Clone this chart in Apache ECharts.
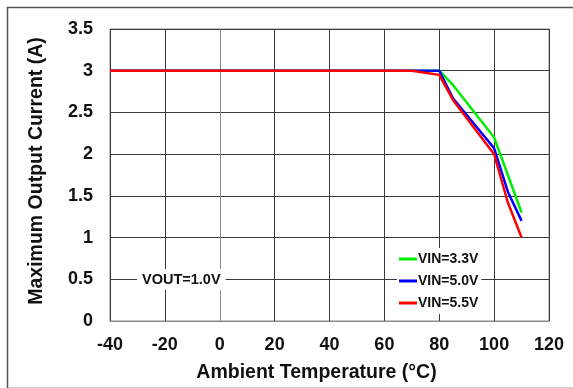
<!DOCTYPE html>
<html>
<head>
<meta charset="utf-8">
<script src="https://cdn.jsdelivr.net/npm/echarts@6/dist/echarts.min.js"></script>
<style>html,body{margin:0;padding:0;background:#fff;}#c{width:573px;height:388px;}</style>
</head>
<body>
<div id="c"></div>
<script>
var temps = [-40, 70, 80, 85, 100, 105, 110];
var vin33 = [3, 3, 3, 2.83, 2.2, 1.75, 1.3];
var vin50 = [3, 3, 3, 2.67, 2.07, 1.55, 1.2];
var vin55 = [3, 3, 2.95, 2.65, 2.0, 1.42, 1.0];
var seriesNames = ['VIN=3.3V', 'VIN=5.0V', 'VIN=5.5V'];
var xTitle = 'Ambient Temperature (°C)';
var yTitle = 'Maximum Output Current (A)';
var note = 'VOUT=1.0V';

function pairs(xs, ys) { return xs.map(function (x, i) { return [x, ys[i]]; }); }

var chart = echarts.init(document.getElementById('c'), null, {renderer: 'canvas'});
var font = 'Liberation Sans, Arial, sans-serif';
var gridLine = {show: true, lineStyle: {color: '#3a3a3a', width: 1}};
chart.setOption({
  animation: false,
  backgroundColor: '#fff',
  grid: {left: 110, right: 24, top: 29, bottom: 65, show: true, borderColor: '#8a8a8a', borderWidth: 1},
  xAxis: {
    type: 'value', min: -40, max: 120, interval: 20,
    name: xTitle, nameLocation: 'middle', nameGap: 42,
    nameTextStyle: {fontFamily: font, fontWeight: 'bold', fontSize: 19.5, color: '#111', padding: [0, 26, 0, 0]},
    axisLine: {show: true, lineStyle: {color: '#8a8a8a'}},
    axisTick: {show: false},
    axisLabel: {fontFamily: font, fontWeight: 'bold', fontSize: 18, color: '#111', margin: 15},
    splitLine: gridLine
  },
  yAxis: {
    type: 'value', min: 0, max: 3.5, interval: 0.5,
    name: yTitle, nameLocation: 'middle', nameGap: 63,
    nameTextStyle: {fontFamily: font, fontWeight: 'bold', fontSize: 19.5, color: '#111', padding: [0, 0, 0, 8]},
    axisLine: {show: true, lineStyle: {color: '#8a8a8a'}},
    axisTick: {show: false},
    axisLabel: {fontFamily: font, fontWeight: 'bold', fontSize: 18, color: '#111', margin: 17},
    splitLine: gridLine
  },
  legend: {
    orient: 'vertical', left: 397, top: 248,
    padding: [3, 3, 3, 2], itemGap: 6,
    backgroundColor: '#fff',
    itemWidth: 18, itemHeight: 3, icon: 'rect',
    textStyle: {fontFamily: font, fontWeight: 'bold', fontSize: 14, color: '#111', padding: [0, 0, 0, -4], height: 16, lineHeight: 16},
    data: seriesNames
  },
  graphic: [
    {type: 'rect', left: 5, top: 5, shape: {width: 600, height: 381}, style: {fill: 'none', stroke: '#555', lineWidth: 1.5}, silent: true, z: 100},
    {type: 'text', left: 137, top: 269, z: 100,
     style: {text: note, fontFamily: font, fontWeight: 'bold', fontSize: 14.5, fill: '#111', backgroundColor: '#fff', padding: [3, 5, 3, 5]}}
  ],
  series: [
    {name: seriesNames[0], type: 'line', data: pairs(temps, vin33), showSymbol: false, color: '#00ee00', lineStyle: {width: 2.5}},
    {name: seriesNames[1], type: 'line', data: pairs(temps, vin50), showSymbol: false, color: '#0000ff', lineStyle: {width: 2.5}},
    {name: seriesNames[2], type: 'line', data: pairs(temps, vin55), showSymbol: false, color: '#ff0000', lineStyle: {width: 2.5}}
  ]
});
</script>
</body>
</html>
